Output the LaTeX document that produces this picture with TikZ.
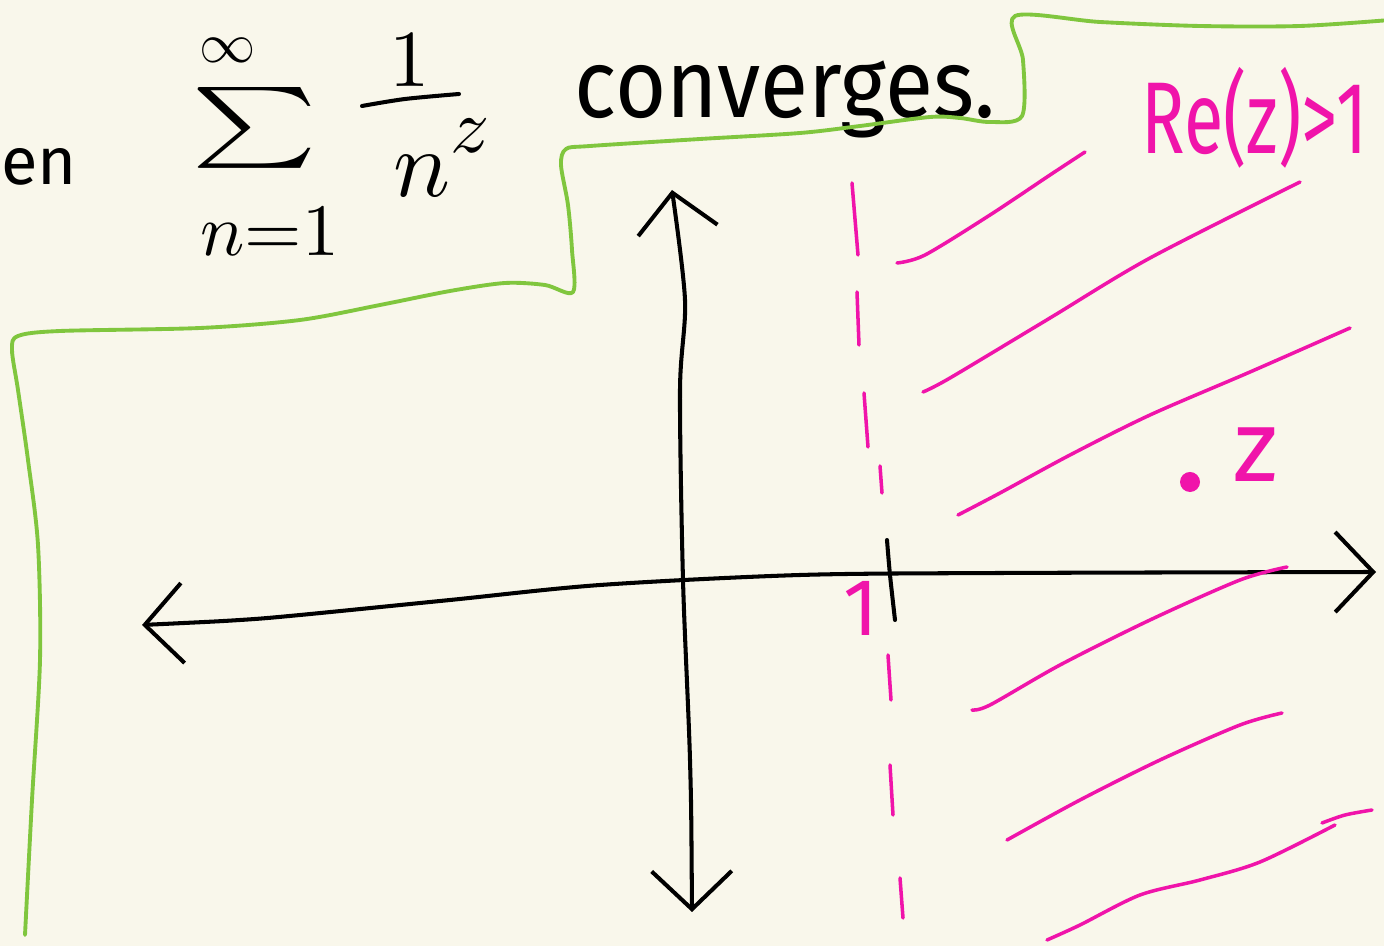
\documentclass[tikz,border=0pt]{standalone}
\usepackage{fontspec}
\setmainfont{Fira Sans}
\usepackage{amsmath}
\usetikzlibrary{arrows.meta}

\definecolor{paper}{RGB}{249,247,235}
\definecolor{hotpink}{RGB}{240,20,170}
\definecolor{leafgreen}{RGB}{128,198,62}

\begin{document}
\begin{tikzpicture}[x=0.01cm,y=-0.01cm]
        % 线条样式
        \tikzset{
          ink/.style={black,line width=1.15pt,line cap=round,line join=round},
          pinkink/.style={hotpink,line width=1pt,line cap=round,line join=round},
          greenink/.style={leafgreen,line width=1.1pt,line cap=round,line join=round},
          barbs/.style={{Straight Barb[length=3.8mm,width=8mm,line width=1.15pt]}-{Straight Barb[length=3.8mm,width=8mm,line width=1.15pt]}},
          words/.style={inner sep=0pt,anchor=base west}
        }

        % 纸面
        \fill[paper] (0,0) rectangle (1384,946);
        \useasboundingbox (0,0) rectangle (1384,946);

        % 公式与文字
        \node[words,scale=1.9] (then) at (0,185) {en};
        \node[inner sep=0pt,xscale=3.4,yscale=2.3] (sigma) at (255,128) {$\textstyle\sum$};
        \node[inner sep=0pt,scale=1.6] (inf) at (228,50) {$\infty$};
        \node[scale=2.1] (lower) at (270,232) {$n{=}1$};
        \node[inner sep=0pt,scale=2.3] (num) at (410,60) {$1$};
        \draw[ink] plot[smooth] coordinates {(362,106) (405,99) (459,94)};
        \node[inner sep=0pt,scale=2.7] (den) at (422,176) {$n$};
        \node[inner sep=0pt,scale=2.2] (expo) at (470,136) {$z$};
        \node[words,xscale=2.5,yscale=2.75] (conv) at (573,118) {converges.};

        % 绿色边界
        \draw[greenink] plot[smooth,tension=0.5] coordinates {(25,935) (32,800) (40,660) (38,545) (28,460) (18,390) (12,350) (18,336) (60,331) (200,328) (300,320) (380,305) (450,291) (505,283) (545,285) (573,292) (572,250) (568,205) (561,165) (566,149) (590,146) (700,139) (800,133) (860,126) (930,117) (960,118) (990,122) (1022,116) (1023,60) (1015,16) (1100,22) (1200,26) (1300,26) (1390,20)};

        % 坐标轴
        \draw[ink,barbs] plot[smooth] coordinates {(692,912) (690,760) (683,580) (680,390) (685,300) (672,190)};
        \draw[ink,barbs] plot[smooth] coordinates {(142,625) (240,620) (300,615) (450,600) (600,585) (800,575) (1000,573) (1376,572)};
        \draw[ink] plot[smooth] coordinates {(887,540) (890,575) (895,620)};
        \node[hotpink,inner sep=0pt,scale=2.3] (one) at (861,608) {1};

        % 虚线 Re z = 1
        \foreach \xa/\ya/\xb/\yb in {852/183/858/255, 857/292/859/345, 864/393/868/447, 880/466/882/493,
                                     888/655/891/700, 890/765/893/815, 900/878/903/918}
          \draw[pinkink] (\xa,\ya) -- (\xb,\yb);

        % 阴影线
        \draw[pinkink] plot[smooth] coordinates {(897,263) (925,255) (990,215) (1050,175) (1085,152)};
        \draw[pinkink] plot[smooth] coordinates {(923,392) (950,378) (1050,318) (1150,258) (1300,182)};
        \draw[pinkink] plot[smooth] coordinates {(958,515) (1000,493) (1070,455) (1150,415) (1250,372) (1350,328)};
        \draw[pinkink] plot[smooth] coordinates {(972,710) (990,705) (1060,665) (1150,620) (1240,580) (1287,567)};
        \draw[pinkink] plot[smooth] coordinates {(1007,840) (1080,800) (1160,760) (1240,725) (1282,713)};
        \draw[pinkink] plot[smooth] coordinates {(1047,940) (1080,925) (1140,895) (1200,880) (1260,862) (1335,825)};
        \draw[pinkink] plot[smooth] coordinates {(1322,823) (1345,815) (1372,810)};

        \node[hotpink,words,xscale=2.05,yscale=2.9] (cond) at (1140,154) {Re(z)>1};

        % 点 z
        \coordinate (Z) at (1190,482);
        \fill[hotpink] (Z) circle (1mm);
        \node[hotpink,scale=2.9] (zlabel) at (1256,455) {z};
\end{tikzpicture}
\end{document}
